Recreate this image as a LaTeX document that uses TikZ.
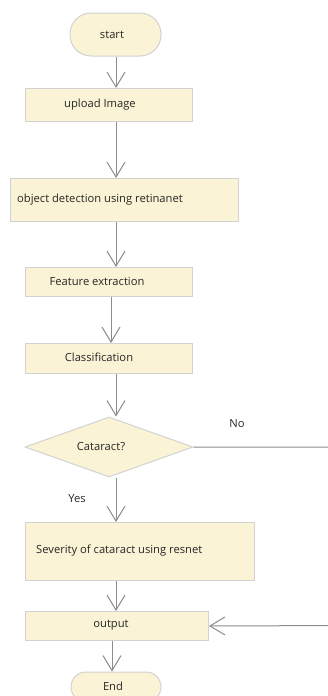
\documentclass[tikz,border=0pt]{standalone}
\usepackage{fontspec}
\setmainfont{Open Sans}
\usetikzlibrary{arrows.meta,shapes.geometric}
\definecolor{boxfill}{HTML}{FBF3D5}
\definecolor{boxline}{HTML}{D2D2D2}
\definecolor{arrowcol}{HTML}{8C8C8C}
\begin{document}
\begin{tikzpicture}[x=1pt,y=-1pt,
  font=\fontsize{11.2}{13}\selectfont,
  boxnode/.style={draw=boxline,fill=boxfill,line width=1pt,inner sep=0pt,anchor=north west},
  termnode/.style={draw=boxline,fill=boxfill,line width=1pt,inner sep=0pt,rounded corners=21pt},
  decnode/.style={diamond,draw=boxline,fill=boxfill,line width=1pt,inner sep=0pt,minimum width=168pt,minimum height=60pt},
  txt/.style={inner sep=0pt,text=black!85},
  flow/.style={draw=arrowcol,line width=1pt,-{Straight Barb[length=15pt,width=18pt,line width=1pt]}},
  plain/.style={draw=arrowcol,line width=1pt}]
\useasboundingbox (0,0) rectangle (328,696);
\clip (0,0) rectangle (328,696);
% nodes
\node[termnode,minimum width=91pt,minimum height=43pt] (start) at (115.5,34.5) {};
\node[txt] (tstart) at (112,34.5) {start};
\node[boxnode,minimum width=167pt,minimum height=33pt] (upload) at (25,88) {};
\node[txt] (tupload) at (100,104.5) {upload Image};
\node[boxnode,minimum width=228pt,minimum height=43pt] (detect) at (10,178) {};
\node[txt,anchor=west] (tdetect) at (17,199.5) {object detection using retinanet};
\node[boxnode,minimum width=167pt,minimum height=29pt] (feat) at (25,267) {};
\node[txt] (tfeat) at (97,281.5) {Feature extraction};
\node[boxnode,minimum width=167pt,minimum height=30pt] (cls) at (25,343) {};
\node[txt] (tcls) at (99,357.5) {Classification};
\node[decnode] (cat) at (109,447) {};
\node[txt] (tcat) at (101,446.5) {Cataract?};
\node[txt] (no) at (237,424) {No};
\node[txt] (yes) at (77,499) {Yes};
\node[boxnode,minimum width=229pt,minimum height=58pt] (sev) at (25,522) {};
\node[txt,anchor=west] (tsev) at (36,550.5) {Severity of cataract using resnet};
\node[boxnode,minimum width=183pt,minimum height=29pt] (out) at (25,611) {};
\node[txt] (tout) at (111,625.5) {output};
\node[termnode,minimum width=90pt,minimum height=30pt,rounded corners=15pt] (end) at (116,687) {};
\node[txt] (tend) at (113,686.5) {End};
\coordinate (loopa) at (345,447);
\coordinate (loopb) at (345,625.5);
% connectors
\path[flow] (start.south -| 116,0) -- (upload.north -| 116,0);
\path[flow] (upload.south -| 116,0) -- (detect.north -| 116,0);
\path[flow] (detect.south -| 116,0) -- (feat.north -| 116,0);
\path[flow] (feat.south -| 111,0) -- (cls.north -| 111,0);
\path[flow] (cls.south -| 116,0) -- (cat.north -| 116,0);
\path[flow] (cat.south -| 116,0) -- (sev.north -| 116,0);
\path[flow] (sev.south -| 116,0) -- (out.north -| 116,0);
\path[flow] (out.south -| 112,0) -- (end.north -| 112,0);
\path[flow] (cat.east) -- (loopa) -- (loopb) -- (out.east);
\end{tikzpicture}
\end{document}
